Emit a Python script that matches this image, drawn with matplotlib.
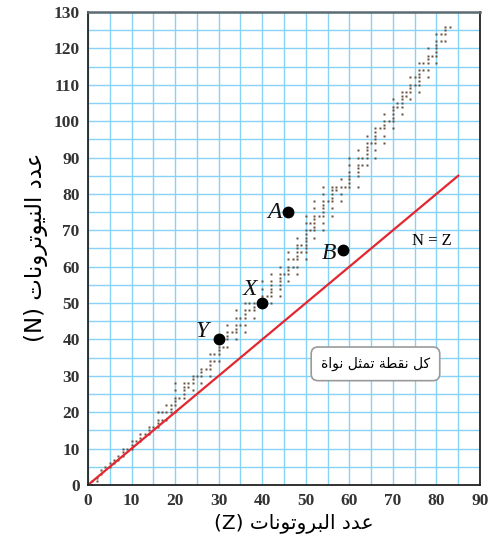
import matplotlib
matplotlib.use("Agg")
import numpy as np
from matplotlib import pyplot as plt

# stable nuclei: neutron numbers for each Z, starting at Z = 1
n_light = [[0, 1], [1, 2], [3, 4], [5], [5, 6], [6, 7], [7, 8], [8, 9, 10], [10], [10, 11, 12],
           [12], [12, 13, 14], [14], [14, 15, 16], [16], [16, 17, 18, 20], [18, 20], [18, 20, 22],
           [20, 21, 22], [20, 22, 23, 24, 26, 28], [24], [24, 25, 26, 27, 28], [27, 28],
           [26, 28, 29, 30], [30], [28, 30, 31, 32], [32], [30, 32, 33, 34, 36]]
n_mid = [[34, 36], [34, 36, 37, 38, 40], [38, 40], [38, 40, 41, 42, 44], [42],
         [40, 42, 43, 44, 46, 48], [44, 46], [42, 44, 46, 47, 48, 50], [48, 50], [46, 48, 49, 50],
         [50], [50, 51, 52, 54, 56], [52], [50, 52, 53, 54, 55, 56, 58], [],
         [52, 54, 55, 56, 57, 58, 60], [58], [56, 58, 59, 60, 62, 64], [60, 62],
         [58, 60, 62, 63, 64, 65, 66, 68], [64, 66], [62, 64, 65, 66, 67, 68, 69, 70, 72, 74],
         [70, 72], [68, 70, 71, 72, 73, 74, 76, 78], [74], [70, 72, 74, 75, 76, 77, 78, 80, 82],
         [78], [74, 76, 78, 79, 80, 81, 82]]
n_heavy = [[81, 82], [78, 80, 82, 84], [82], [82, 83, 84, 85, 86, 88, 90], [],
           [82, 85, 86, 87, 88, 90, 92], [88, 90], [88, 90, 91, 92, 93, 94, 96], [94],
           [90, 92, 94, 95, 96, 97, 98], [98], [94, 96, 98, 99, 100, 102], [100],
           [98, 100, 101, 102, 103, 104, 106], [104, 105], [102, 104, 105, 106, 107, 108],
           [107, 108], [106, 108, 109, 110, 112], [110, 112], [108, 110, 111, 112, 113, 114, 116],
           [114, 116], [112, 114, 116, 117, 118, 120], [118], [116, 118, 119, 120, 121, 122, 124],
           [122, 124], [122, 124, 125, 126], [126]]

point_labels = ["A", "B", "X", "Y"]
point_z = [46, 58.5, 40, 30]
point_n = [75, 64.5, 50, 40]
label_offsets = [(-5, 0), (-5, -2), (-4, 10), (-7, 6)]

line_z = [0, 85]

xlabel_ar = "عدد البروتونات"
ylabel_ar = "عدد النيوترونات"
note_ar = "كل نقطة تمثل نواة"

# minimal arabic shaping (isolated, final, initial, medial)
FORMS = {
    "ا": (0xFE8D, 0xFE8E, None, None), "ب": (0xFE8F, 0xFE90, 0xFE91, 0xFE92),
    "ة": (0xFE93, 0xFE94, None, None), "ت": (0xFE95, 0xFE96, 0xFE97, 0xFE98),
    "ث": (0xFE99, 0xFE9A, 0xFE9B, 0xFE9C), "د": (0xFEA9, 0xFEAA, None, None),
    "ر": (0xFEAD, 0xFEAE, None, None), "ط": (0xFEC1, 0xFEC2, 0xFEC3, 0xFEC4),
    "ع": (0xFEC9, 0xFECA, 0xFECB, 0xFECC), "ق": (0xFED5, 0xFED6, 0xFED7, 0xFED8),
    "ك": (0xFED9, 0xFEDA, 0xFEDB, 0xFEDC), "ل": (0xFEDD, 0xFEDE, 0xFEDF, 0xFEE0),
    "م": (0xFEE1, 0xFEE2, 0xFEE3, 0xFEE4), "ن": (0xFEE5, 0xFEE6, 0xFEE7, 0xFEE8),
    "و": (0xFEED, 0xFEEE, None, None), "ي": (0xFEF1, 0xFEF2, 0xFEF3, 0xFEF4),
}


def shape(text):
    out = []
    for i, ch in enumerate(text):
        if ch not in FORMS:
            out.append(ch)
            continue
        f = FORMS[ch]
        prev = text[i - 1] if i > 0 else ""
        nxt = text[i + 1] if i + 1 < len(text) else ""
        p = prev in FORMS and FORMS[prev][2] is not None
        n = nxt in FORMS and f[2] is not None
        if p and n:
            out.append(chr(f[3]))
        elif p:
            out.append(chr(f[1]))
        elif n:
            out.append(chr(f[2]))
        else:
            out.append(chr(f[0]))
    return "".join(out)[::-1]


fig = plt.figure(figsize=(4.88, 5.44), dpi=100)
ax = fig.add_axes([88 / 488, 59 / 544, 392 / 488, 473 / 544])
ax.set_xlim(0, 90)
ax.set_ylim(0, 130)

ax.set_xticks(np.arange(0, 91, 5), minor=True)
ax.set_yticks(np.arange(0, 131, 5), minor=True)
ax.set_xticks(np.arange(0, 91, 10))
ax.set_yticks(np.arange(0, 131, 10))
ax.grid(which="both", color="#86d3f5", linewidth=1.0)
ax.set_axisbelow(True)
ax.tick_params(which="both", length=0)
ax.tick_params(axis="both", pad=6, labelsize=12.5, labelcolor="#333333")
for lab in ax.get_xticklabels() + ax.get_yticklabels():
    lab.set_family("Liberation Serif")
    lab.set_fontweight("bold")
for side in ["left", "bottom", "right"]:
    ax.spines[side].set_color("#222222")
    ax.spines[side].set_linewidth(1.3)
ax.spines["top"].set_color("#5d6b72")
ax.spines["top"].set_linewidth(1.8)

groups = [(1, n_light), (29, n_mid), (57, n_heavy)]
for z0, group in groups:
    for k, ns in enumerate(group):
        ax.plot([z0 + k] * len(ns), ns, "s", ms=2.1, color="#66503f", mec="none")

ax.plot(line_z, line_z, color="#e3262f", lw=1.6)
ax.text(79, 67, "N = Z", fontsize=12, family="Liberation Serif", ha="center", va="center")

ax.plot(point_z, point_n, "o", ms=7.5, color="black")
for lab, z, n, off in zip(point_labels, point_z, point_n, label_offsets):
    ax.annotate(lab, (z, n), xytext=off, textcoords="offset points", ha="right", va="center",
                fontsize=17, style="italic", family="Liberation Serif", color="#111111")

ax.text(66, 33.3, shape(note_ar), fontsize=10, family="DejaVu Sans", color="black",
        ha="center", va="center",
        bbox=dict(boxstyle="round,pad=0.7,rounding_size=0.5", fc="white", ec="#9a9a9a", lw=1.2))

fig.text(294 / 488, 1 - 524 / 544, "(Z) " + shape(xlabel_ar), fontsize=14.5,
         family=["DejaVu Sans"], ha="center", va="center")
fig.text(36 / 488, 1 - 247 / 544, "(N) " + shape(ylabel_ar), fontsize=16.5,
         family=["DejaVu Sans"], ha="center", va="center", rotation=90)

fig.savefig("out.png", dpi=100)
